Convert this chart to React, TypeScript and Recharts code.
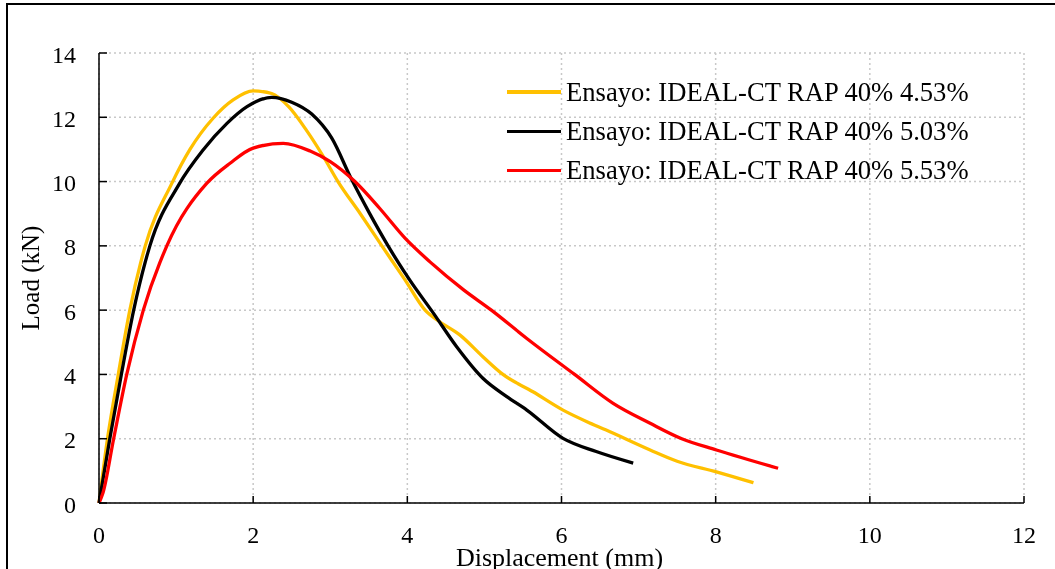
import React from 'react';
import { LineChart, Line, XAxis, YAxis, CartesianGrid } from 'recharts';

const FONT = '"Liberation Serif", "Times New Roman", Times, serif';

const xTicks = [0, 2, 4, 6, 8, 10, 12];
const yTicks = [0, 2, 4, 6, 8, 10, 12, 14];

const seriesNames = [
  'Ensayo: IDEAL-CT RAP 40% 4.53%',
  'Ensayo: IDEAL-CT RAP 40% 5.03%',
  'Ensayo: IDEAL-CT RAP 40% 5.53%',
];
const seriesColors = ['#FFC000', '#000000', '#FF0000'];

// Series 4.53%
const disp453 = [0, 0.11, 0.25, 0.4, 0.6, 0.94, 1.18, 1.48, 1.74, 2.0, 2.24, 2.46, 2.69, 2.91, 3.1, 3.39, 3.67, 3.97, 4.23, 4.42, 4.68, 4.98, 5.24, 5.63, 6.02, 6.33, 6.58, 7.15, 7.5, 8.01, 8.49];
const load453 = [0, 2.0, 4.0, 6.0, 8.0, 9.92, 11.0, 11.97, 12.54, 12.82, 12.74, 12.33, 11.6, 10.78, 10.0, 9.0, 8.0, 6.94, 6.0, 5.64, 5.23, 4.55, 4.0, 3.46, 2.89, 2.53, 2.27, 1.65, 1.3, 0.97, 0.63];

// Series 5.03%
const disp503 = [0, 0.14, 0.29, 0.45, 0.66, 1.04, 1.35, 1.66, 1.92, 2.24, 2.5, 2.76, 3.02, 3.27, 3.51, 3.75, 4.03, 4.34, 4.64, 4.98, 5.29, 5.55, 6.02, 6.45, 6.93];
const load503 = [0, 2.0, 4.0, 6.0, 8.0, 9.92, 10.98, 11.81, 12.33, 12.62, 12.47, 12.1, 11.35, 10.1, 9.01, 8.0, 6.94, 5.9, 4.86, 3.88, 3.31, 2.89, 2.01, 1.6, 1.24];

// Series 5.53%
const disp553 = [0, 0.05, 0.19, 0.36, 0.575, 0.88, 1.4, 1.7, 2.0, 2.39, 2.74, 3.0, 3.32, 3.64, 3.97, 4.29, 4.73, 5.09, 5.55, 6.17, 6.67, 7.15, 7.56, 8.01, 8.81];
const load553 = [0, 0.3, 2.0, 4.0, 6.0, 8.0, 9.95, 10.57, 11.04, 11.19, 10.95, 10.62, 10.0, 9.17, 8.24, 7.51, 6.63, 6.0, 5.12, 4.0, 3.1, 2.48, 2.0, 1.65, 1.08];

const toPoints = (xs: number[], ys: number[]) => xs.map((x, i) => ({ x, y: ys[i] }));
const seriesData = [
  toPoints(disp453, load453),
  toPoints(disp503, load503),
  toPoints(disp553, load553),
];

const XTick = (props: any) => {
  const { x, y, payload } = props;
  return (
    <g>
      <line x1={x} x2={x} y1={y} y2={y - 7} stroke="#000" strokeWidth={1.5} />
      <text x={x} y={y + 40} textAnchor="middle" fontFamily={FONT} fontSize={24} fill="#000">
        {payload.value}
      </text>
    </g>
  );
};

const YTick = (props: any) => {
  const { x, y, payload } = props;
  return (
    <g>
      <line x1={x} x2={x + 8} y1={y} y2={y} stroke="#000" strokeWidth={1.5} />
      <text x={x - 23} y={y + 9.5} textAnchor="end" fontFamily={FONT} fontSize={24} fill="#000">
        {payload.value}
      </text>
    </g>
  );
};

const YTitle = (props: any) => {
  const vb = props.viewBox || { x: 0, y: 45, width: 91, height: 450 };
  const cx = vb.x + 22;
  const cy = vb.y + vb.height / 2;
  return (
    <text x={cx} y={cy} transform={`rotate(-90 ${cx} ${cy})`} textAnchor="middle" dominantBaseline="central" fontFamily={FONT} fontSize={25} fill="#000">
      Load (kN)
    </text>
  );
};

const XTitle = (props: any) => {
  const vb = props.viewBox || { x: 91, y: 495, width: 925, height: 66 };
  return (
    <text x={vb.x + vb.width / 2 - 2} y={vb.y + 63} textAnchor="middle" fontFamily={FONT} fontSize={26} fill="#000">
      Displacement (mm)
    </text>
  );
};

export default function App() {
  return (
    <div style={{ position: 'relative', width: 1047, height: 561 }}>
      <div
        style={{
          position: 'fixed',
          left: 6,
          top: 3,
          width: 1100,
          height: 620,
          border: '2px solid #000',
          boxSizing: 'border-box',
          pointerEvents: 'none',
        }}
      />
      <LineChart width={1047} height={561} margin={{ top: 45, right: 31, bottom: 0, left: 0 }}>
        <CartesianGrid stroke="#c8c8c8" strokeWidth={1.5} strokeDasharray="2 3" />
        <XAxis
          type="number"
          dataKey="x"
          domain={[0, 12]}
          ticks={xTicks}
          height={66}
          tickLine={false}
          tickSize={0}
          tickMargin={0}
          axisLine={{ stroke: '#000', strokeWidth: 1.5 }}
          tick={<XTick />}
          label={<XTitle />}
        />
        <YAxis
          type="number"
          domain={[0, 14]}
          ticks={yTicks}
          width={91}
          tickLine={false}
          tickSize={0}
          tickMargin={0}
          axisLine={{ stroke: '#000', strokeWidth: 1.5 }}
          tick={<YTick />}
          label={<YTitle />}
        />
        {seriesData.map((d, i) => (
          <Line
            key={seriesNames[i]}
            data={d}
            dataKey="y"
            name={seriesNames[i]}
            type="monotone"
            stroke={seriesColors[i]}
            strokeWidth={3.3}
            dot={false}
            activeDot={false}
            isAnimationActive={false}
          />
        ))}
      </LineChart>
      <div
        style={{
          position: 'absolute',
          left: 499,
          top: 64.5,
          fontFamily: FONT,
          fontSize: 26.6,
          color: '#000',
        }}
      >
        {seriesNames.map((name, i) => (
          <div key={name} style={{ display: 'flex', alignItems: 'center', height: 39.3, lineHeight: '39.3px', whiteSpace: 'nowrap' }}>
            <span style={{ display: 'inline-block', width: 54, height: 3.5, background: seriesColors[i], marginRight: 5 }} />
            <span>{name}</span>
          </div>
        ))}
      </div>
    </div>
  );
}
